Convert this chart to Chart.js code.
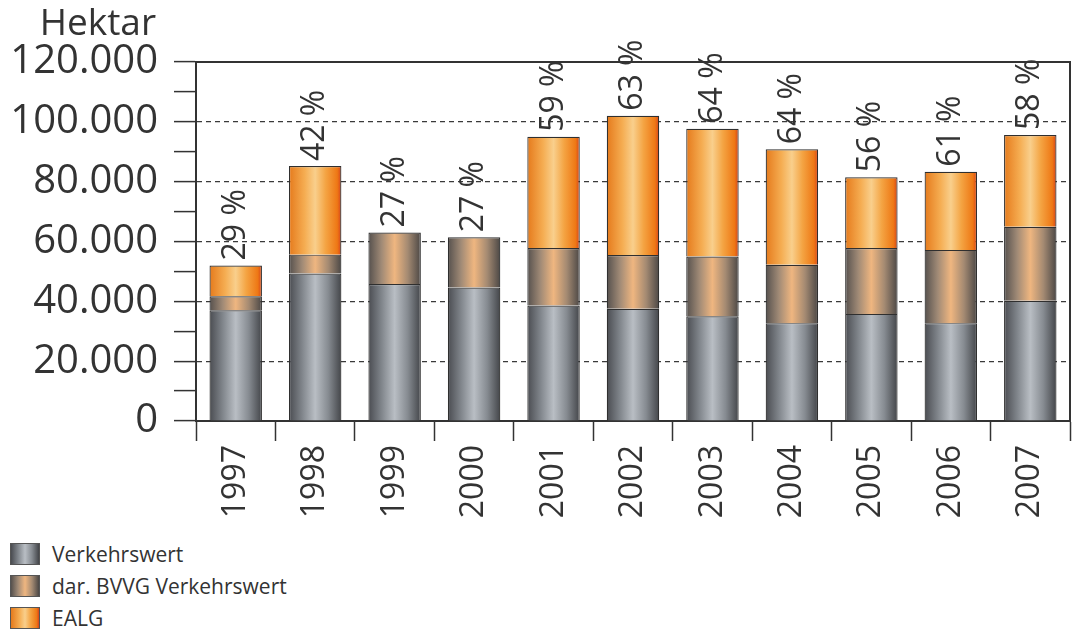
<!DOCTYPE html>
<html lang="de">
<head>
<meta charset="utf-8">
<title>Hektar</title>
<script src="https://cdn.jsdelivr.net/npm/chart.js@4.4.1/dist/chart.umd.min.js"></script>
<style>
  body { margin: 0; background: #fff; font-family: 'Open Sans', sans-serif; color: #333; }
  #wrap { position: relative; width: 1084px; height: 530px; }
  #legende { margin: 8px 0 0 10px; }
  .eintrag { display: flex; align-items: center; height: 32px; font-size: 21px; }
  .feld { width: 30px; height: 22px; margin-right: 12px; border: 1px solid #555; box-sizing: border-box; }
</style>
</head>
<body>
<div id="wrap"><canvas id="flaechen"></canvas></div>
<div id="legende"></div>
<script>
const jahre = ['1997', '1998', '1999', '2000', '2001', '2002', '2003', '2004', '2005', '2006', '2007'];
const verkehrswert = [37000, 49300, 45800, 44600, 38600, 37500, 35000, 32700, 35800, 32700, 40200];
const bvvgVerkehrswert = [4700, 6300, 17200, 16800, 19200, 18000, 20000, 19500, 22000, 24500, 24700];
const ealg = [10300, 29600, null, null, 37200, 46500, 42700, 38600, 23700, 26100, 30700];
const anteil = [29, 42, 27, 27, 59, 63, 64, 64, 56, 61, 58];

const schrift = "'Open Sans', sans-serif";
const balkenBreite = 0.66;

// Farbverläufe quer über den Balken (Zylinder-Optik)
const grauStops = [[0, '#4a4c51'], [0.25, '#80858b'], [0.5, '#b9bec4'], [0.75, '#868b91'], [1, '#434549']];
const bvvgStops = [[0, '#55504d'], [0.25, '#a08a76'], [0.5, '#efb680'], [0.75, '#a48a72'], [1, '#4b4745']];
const ealgStops = [[0, '#e57a1c'], [0.3, '#f5ad52'], [0.5, '#f9cf8c'], [0.7, '#f4a443'], [0.92, '#ee7815'], [1, '#d6421b']];

function mitte(stops) { return stops[Math.floor(stops.length / 2)][1]; }

function verlauf(stops) {
  return function(context) {
    const chart = context.chart;
    const x = chart.scales.x;
    if (context.type !== 'data' || !chart.chartArea || !x) return mitte(stops);
    const px = x.getPixelForValue(context.dataIndex);
    const b = (x.width / jahre.length) * balkenBreite;
    if (!isFinite(px)) return mitte(stops);
    const g = chart.ctx.createLinearGradient(px - b / 2, 0, px + b / 2, 0);
    stops.forEach(s => g.addColorStop(s[0], s[1]));
    return g;
  };
}

function tausender(v) {
  return String(v).replace(/\B(?=(\d{3})+(?!\d))/g, '.');
}

// Prozentangaben über den Balken, Achsentitel und Rahmen oben/rechts
const beschriftung = {
  id: 'beschriftung',
  afterDraw(chart) {
    const ctx = chart.ctx;
    const area = chart.chartArea;
    const x = chart.scales.x;
    const y = chart.scales.y;

    ctx.save();
    ctx.strokeStyle = '#333';
    ctx.lineWidth = 2;
    ctx.beginPath();
    ctx.moveTo(area.left, area.top);
    ctx.lineTo(area.right, area.top);
    ctx.lineTo(area.right, area.bottom);
    ctx.stroke();

    ctx.fillStyle = '#333';
    ctx.font = '32px ' + schrift;
    ctx.textAlign = 'left';
    ctx.textBaseline = 'middle';
    jahre.forEach((j, i) => {
      const summe = (verkehrswert[i] || 0) + (bvvgVerkehrswert[i] || 0) + (ealg[i] || 0);
      ctx.save();
      ctx.translate(x.getPixelForValue(i), y.getPixelForValue(summe) - 5);
      ctx.rotate(-Math.PI / 2);
      ctx.fillText(anteil[i] + ' %', 0, 0);
      ctx.restore();
    });

    ctx.font = '37px ' + schrift;
    ctx.textAlign = 'right';
    ctx.fillText('Hektar', area.left - 40, 24);
    ctx.restore();
  }
};

new Chart(document.getElementById('flaechen'), {
  type: 'bar',
  data: {
    labels: jahre,
    datasets: [
      { label: 'Verkehrswert', data: verkehrswert, backgroundColor: verlauf(grauStops) },
      { label: 'dar. BVVG Verkehrswert', data: bvvgVerkehrswert, backgroundColor: verlauf(bvvgStops) },
      { label: 'EALG', data: ealg, backgroundColor: verlauf(ealgStops) }
    ]
  },
  options: {
    responsive: true,
    maintainAspectRatio: false,
    animation: false,
    layout: { padding: { top: 62, right: 14, left: 0, bottom: 0 } },
    datasets: {
      bar: {
        categoryPercentage: 1,
        barPercentage: balkenBreite,
        borderColor: '#2f2f2f',
        borderWidth: 1.2
      }
    },
    plugins: {
      legend: { display: false },
      tooltip: { enabled: false }
    },
    scales: {
      x: {
        stacked: true,
        ticks: {
          color: '#333',
          font: { size: 32, family: schrift },
          minRotation: 90,
          maxRotation: 90,
          padding: 4
        },
        grid: {
          offset: true,
          drawOnChartArea: false,
          tickLength: 20,
          tickColor: '#333',
          tickWidth: 1.5
        },
        border: { color: '#333', width: 2 },
        afterFit: s => { s.height = 109; }
      },
      y: {
        stacked: true,
        min: 0,
        max: 120000,
        ticks: {
          stepSize: 10000,
          autoSkip: false,
          padding: 16,
          color: '#333',
          font: { size: 40, family: schrift },
          callback: v => v % 20000 === 0 ? tausender(v) : ''
        },
        grid: {
          color: c => c.tick && c.tick.value % 20000 === 0 ? '#3a3a3a' : 'rgba(0,0,0,0)',
          lineWidth: 1.2,
          tickLength: 22,
          tickColor: '#333',
          tickWidth: 1.5
        },
        border: { color: '#333', width: 2, dash: [5, 4] },
        afterFit: s => { s.width = 196; }
      }
    }
  },
  plugins: [beschriftung]
});

// Legende untereinander
const legende = document.getElementById('legende');
[['Verkehrswert', grauStops], ['dar. BVVG Verkehrswert', bvvgStops], ['EALG', ealgStops]].forEach(([text, stops]) => {
  const zeile = document.createElement('div');
  zeile.className = 'eintrag';
  const feld = document.createElement('span');
  feld.className = 'feld';
  feld.style.background = 'linear-gradient(to right, ' + stops.map(s => s[1] + ' ' + (s[0] * 100) + '%').join(', ') + ')';
  zeile.appendChild(feld);
  zeile.appendChild(document.createTextNode(text));
  legende.appendChild(zeile);
});
</script>
</body>
</html>
